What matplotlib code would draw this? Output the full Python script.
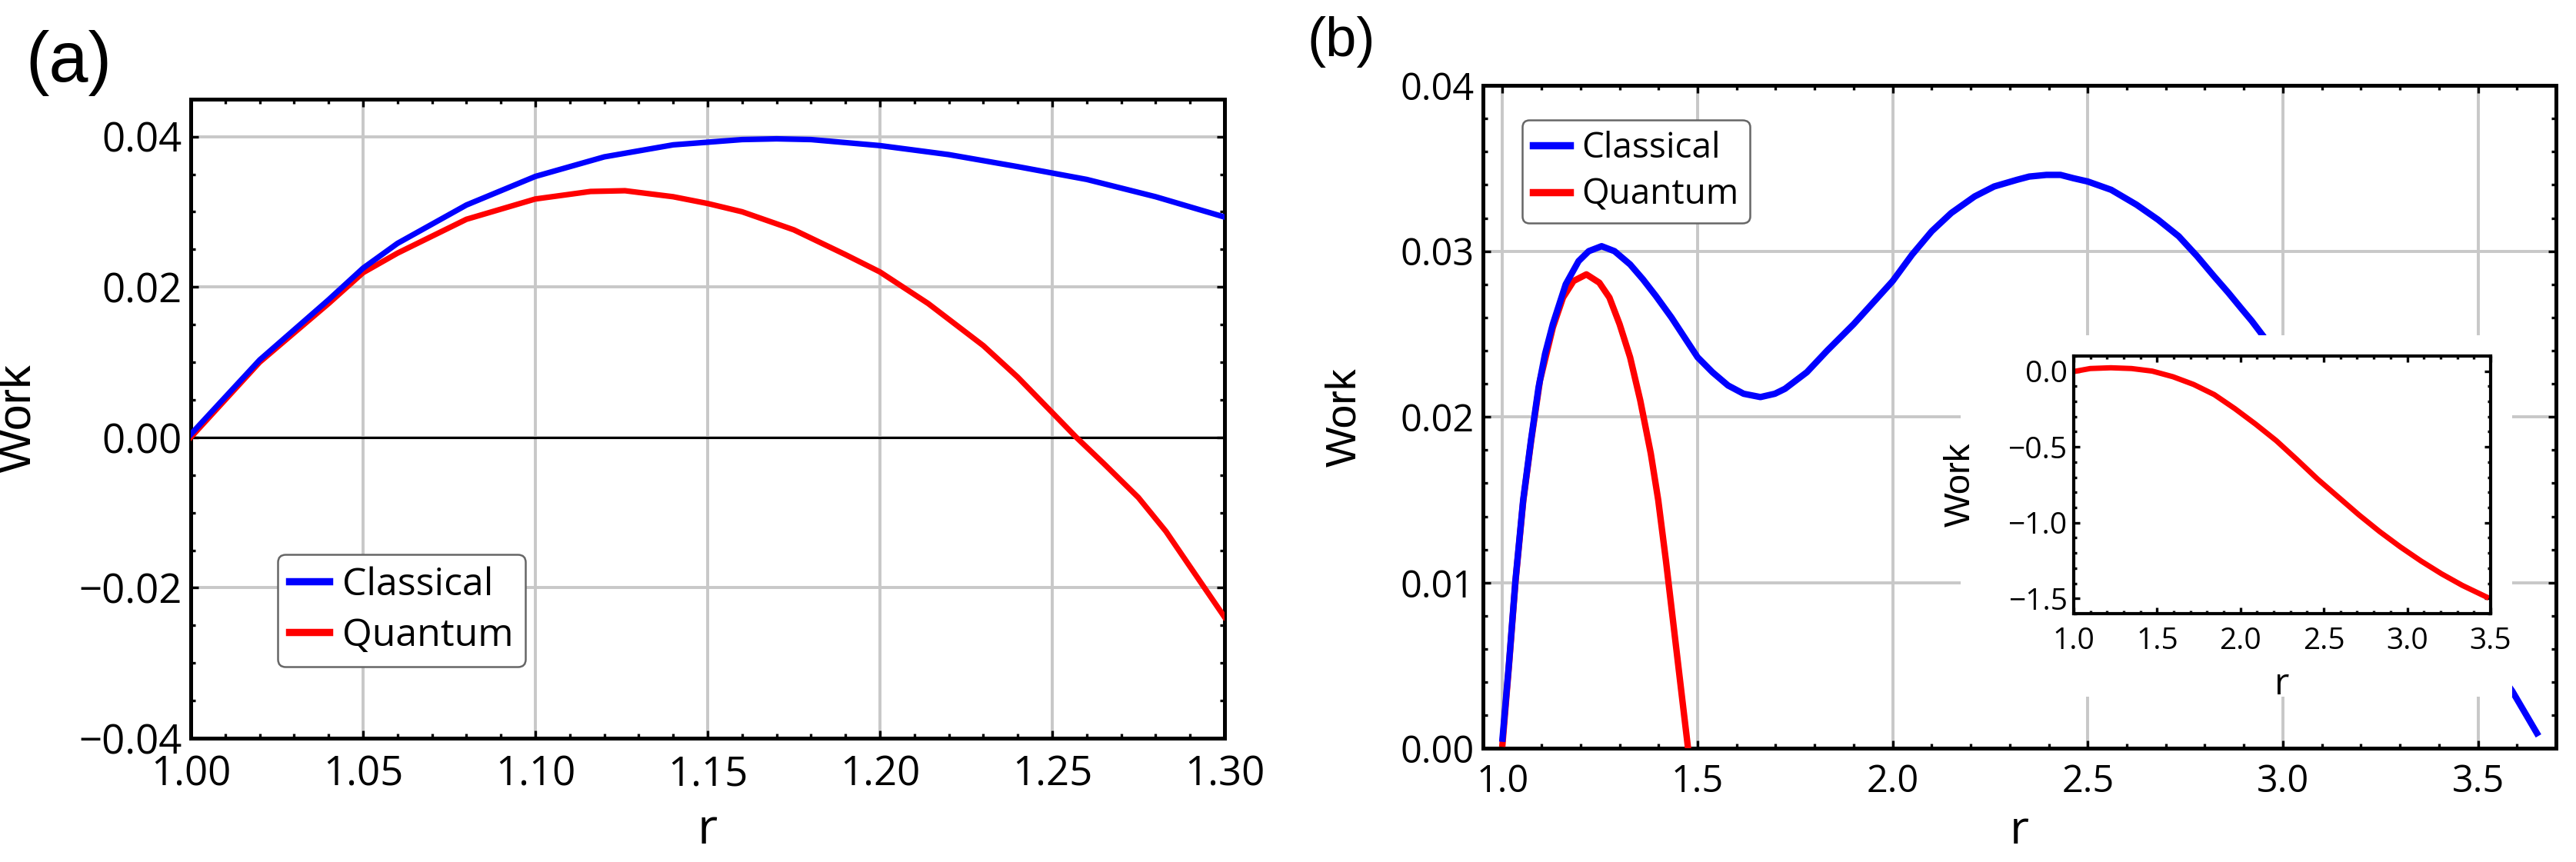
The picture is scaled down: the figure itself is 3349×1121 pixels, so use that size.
import matplotlib
matplotlib.use('Agg')
import matplotlib.pyplot as plt
from matplotlib import font_manager
from matplotlib.ticker import MultipleLocator
from matplotlib.patches import Rectangle

# font choice (Mathematica-like ticks, Helvetica-like labels)
avail = {f.name for f in font_manager.fontManager.ttflist}
def pick(*names):
    return next((n for n in names if n in avail), 'DejaVu Sans')
tick_font = pick('Open Sans', 'Noto Sans', 'DejaVu Sans')
label_font = pick('Liberation Sans', 'DejaVu Sans')

# ---- panel (a) data ----
r_a_classical = [1.00, 1.02, 1.04, 1.05, 1.06, 1.08, 1.10, 1.12, 1.14, 1.16, 1.17,
                 1.18, 1.20, 1.22, 1.24, 1.26, 1.28, 1.30]
w_a_classical = [0.0004, 0.0103, 0.0183, 0.0225, 0.0258, 0.0309, 0.0347, 0.0373, 0.0389,
                 0.0396, 0.0397, 0.0396, 0.0388, 0.0376, 0.0360, 0.0343, 0.0320, 0.0293]
r_a_quantum = [1.00, 1.02, 1.04, 1.05, 1.06, 1.08, 1.10, 1.116, 1.126, 1.14, 1.15, 1.16,
               1.175, 1.19, 1.20, 1.214, 1.23, 1.24, 1.25, 1.257, 1.265, 1.275, 1.283,
               1.29, 1.30]
w_a_quantum = [0.0000, 0.0100, 0.0178, 0.0219, 0.0245, 0.0290, 0.0317, 0.0327, 0.0328,
               0.0320, 0.0311, 0.0300, 0.0276, 0.0243, 0.0220, 0.0178, 0.0122, 0.0080,
               0.0033, 0.0000, -0.0035, -0.0080, -0.0125, -0.0172, -0.0239]

# ---- panel (b) data ----
r_b_classical = [1.00, 1.0165, 1.033, 1.053, 1.073, 1.0925, 1.109, 1.129, 1.162, 1.195,
                 1.221, 1.254, 1.287, 1.327, 1.360, 1.393, 1.433, 1.472, 1.50, 1.538,
                 1.578, 1.618, 1.661, 1.698, 1.724, 1.78, 1.832, 1.90, 1.95, 2.00, 2.05,
                 2.10, 2.15, 2.21, 2.26, 2.318, 2.35, 2.394, 2.43, 2.463, 2.50, 2.56,
                 2.625, 2.68, 2.733, 2.78, 2.823, 2.86, 2.895, 2.92, 2.949, 3.588, 3.651]
w_b_classical = [0.0006, 0.0051, 0.0101, 0.0150, 0.0186, 0.0218, 0.0238, 0.0256, 0.0280,
                 0.0294, 0.0300, 0.0303, 0.0300, 0.0292, 0.0283, 0.0273, 0.0260, 0.0246,
                 0.0236, 0.0227, 0.0219, 0.0214, 0.0212, 0.0214, 0.0217, 0.0227, 0.0240,
                 0.0256, 0.0269, 0.0282, 0.0298, 0.0312, 0.0323, 0.0333, 0.0339, 0.0343,
                 0.0345, 0.0346, 0.0346, 0.0344, 0.0342, 0.0337, 0.0328, 0.0319, 0.0309,
                 0.0297, 0.0285, 0.0275, 0.0265, 0.0258, 0.0249, 0.00346, 0.00093]
r_b_quantum = [1.00, 1.0165, 1.033, 1.053, 1.073, 1.096, 1.129, 1.155, 1.182, 1.215,
               1.248, 1.274, 1.300, 1.327, 1.353, 1.380, 1.399, 1.419, 1.439, 1.459, 1.4756]
w_b_quantum = [0.0003, 0.0050, 0.0100, 0.0149, 0.0185, 0.0222, 0.0254, 0.0272, 0.0282,
               0.0286, 0.0281, 0.0272, 0.0256, 0.0236, 0.0210, 0.0178, 0.0150, 0.0113,
               0.0073, 0.0033, 0.0]

# ---- inset data (quantum, wide range) ----
r_inset = [1.0, 1.099, 1.223, 1.347, 1.471, 1.595, 1.719, 1.843, 1.967, 2.091, 2.215,
           2.339, 2.463, 2.587, 2.711, 2.835, 2.959, 3.083, 3.207, 3.331, 3.475]
w_inset = [-0.003, 0.017, 0.022, 0.017, 0.0, -0.037, -0.088, -0.155, -0.248, -0.350,
           -0.459, -0.584, -0.713, -0.831, -0.949, -1.059, -1.160, -1.253, -1.338,
           -1.414, -1.490]

# ticks
xt_a = [1.00, 1.05, 1.10, 1.15, 1.20, 1.25, 1.30]
xt_a_lab = ['1.00', '1.05', '1.10', '1.15', '1.20', '1.25', '1.30']
yt_a = [-0.04, -0.02, 0.00, 0.02, 0.04]
yt_a_lab = ['\u22120.04', '\u22120.02', '0.00', '0.02', '0.04']
xt_b = [1.0, 1.5, 2.0, 2.5, 3.0, 3.5]
xt_b_lab = ['1.0', '1.5', '2.0', '2.5', '3.0', '3.5']
yt_b = [0.00, 0.01, 0.02, 0.03, 0.04]
yt_b_lab = ['0.00', '0.01', '0.02', '0.03', '0.04']
yt_in = [-1.5, -1.0, -0.5, 0.0]
yt_in_lab = ['\u22121.5', '\u22121.0', '\u22120.5', '0.0']

BLUE = '#0000ff'
RED = '#ff0000'
GRID = '#c8c8c8'

fig = plt.figure(figsize=(3349 / 200, 1121 / 200), dpi=200)
axa = fig.add_axes([0.07405, 0.14362, 0.40131, 0.74157])
axb = fig.add_axes([0.57570, 0.13158, 0.41654, 0.76940])


def style(ax, fs, spine_w=1.8, xpad=7.5, ypad=4):
    ax.tick_params(which='both', direction='in', top=True, right=True,
                   labelsize=fs, width=1.2)
    ax.tick_params(which='major', length=3.5)
    ax.tick_params(which='minor', length=2.0)
    ax.tick_params(axis='y', pad=ypad)
    ax.tick_params(axis='x', pad=xpad)
    for s in ax.spines.values():
        s.set_linewidth(spine_w)
    for lab in ax.get_xticklabels() + ax.get_yticklabels():
        lab.set_fontfamily(tick_font)


def add_legend(ax, fs, **kw):
    h, l = ax.get_legend_handles_labels()
    leg = ax.legend(h[::-1], l[::-1], borderaxespad=0, handlelength=1.05,
                    handletextpad=0.34, borderpad=0.3, labelspacing=0.33,
                    fancybox=True, framealpha=1, edgecolor='#666666',
                    prop={'family': tick_font, 'size': fs}, **kw)
    leg.get_frame().set_linewidth(0.9)
    for line in leg.get_lines():
        line.set_linewidth(3.4)


# ---- (a) ----
axa.plot(r_a_quantum, w_a_quantum, color=RED, lw=2.6, label='Quantum', zorder=3)
axa.plot(r_a_classical, w_a_classical, color=BLUE, lw=2.6, label='Classical', zorder=4)
axa.axhline(0, color='black', lw=1.1, zorder=2)
axa.set_xlim(1.0, 1.3)
axa.set_ylim(-0.04, 0.045)
axa.set_xticks(xt_a, xt_a_lab)
axa.set_yticks(yt_a, yt_a_lab)
axa.xaxis.set_minor_locator(MultipleLocator(0.01))
axa.yaxis.set_minor_locator(MultipleLocator(0.005))
axa.grid(True, which='major', color=GRID, lw=1.4)
axa.set_axisbelow(True)
style(axa, 19)
axa.set_ylabel('Work', fontsize=22, family=label_font)
axa.yaxis.set_label_coords(-0.146, 0.5)
axa.set_xlabel('r', fontsize=23, family=tick_font)
axa.xaxis.set_label_coords(0.5, -0.165)
axa.xaxis.label.set_va('baseline')
add_legend(axa, 18, loc='lower left', bbox_to_anchor=(0.084, 0.112))

# ---- (b) ----
axb.plot(r_b_quantum, w_b_quantum, color=RED, lw=3.0, label='Quantum', zorder=3)
axb.plot(r_b_classical, w_b_classical, color=BLUE, lw=3.0, label='Classical', zorder=4)
axb.set_xlim(0.95, 3.70)
axb.set_ylim(0.0, 0.04)
axb.set_xticks(xt_b, xt_b_lab)
axb.set_yticks(yt_b, yt_b_lab)
axb.xaxis.set_minor_locator(MultipleLocator(0.1))
axb.yaxis.set_minor_locator(MultipleLocator(0.002))
axb.grid(True, which='major', color=GRID, lw=1.4)
axb.set_axisbelow(True)
style(axb, 17.5, xpad=7)
axb.set_ylabel('Work', fontsize=20, family=label_font)
axb.yaxis.set_label_coords(-0.110, 0.5)
axb.set_xlabel('r', fontsize=22, family=tick_font)
axb.xaxis.set_label_coords(0.5, -0.143)
axb.xaxis.label.set_va('baseline')
add_legend(axb, 16.5, loc='upper left', bbox_to_anchor=(0.0366, 0.948))

# white area behind the inset
axb.add_patch(Rectangle((0.445, 0.078), 0.514, 0.545, transform=axb.transAxes,
                        facecolor='white', edgecolor='none', zorder=6))

# ---- inset ----
pb = axb.get_position()
axin = fig.add_axes([pb.x0 + 0.5505 * pb.width, pb.y0 + 0.2035 * pb.height,
                     0.3885 * pb.width, 0.3885 * pb.height])
axin.plot(r_inset, w_inset, color=RED, lw=2.5)
axin.set_xlim(1.0, 3.5)
axin.set_ylim(-1.6, 0.1)
axin.set_xticks(xt_b, xt_b_lab)
axin.set_yticks(yt_in, yt_in_lab)
axin.xaxis.set_minor_locator(MultipleLocator(0.1))
axin.yaxis.set_minor_locator(MultipleLocator(0.1))
style(axin, 14, spine_w=1.5, xpad=6, ypad=3)
axin.tick_params(which='major', length=3)
axin.tick_params(which='minor', length=1.6)
axin.set_ylabel('Work', fontsize=17, family=label_font)
axin.yaxis.set_label_coords(-0.231, 0.5)
axin.set_xlabel('r', fontsize=17, family=tick_font)
axin.xaxis.set_label_coords(0.5, -0.313)
axin.xaxis.label.set_va('baseline')

# panel labels
fig.text(0.00985, 0.9652, '(a)', fontsize=33, family=label_font, va='top', ha='left')
fig.text(0.5076, 0.9813, '(b)', fontsize=26, family=label_font, va='top', ha='left')

fig.savefig('out.png', dpi=200)
